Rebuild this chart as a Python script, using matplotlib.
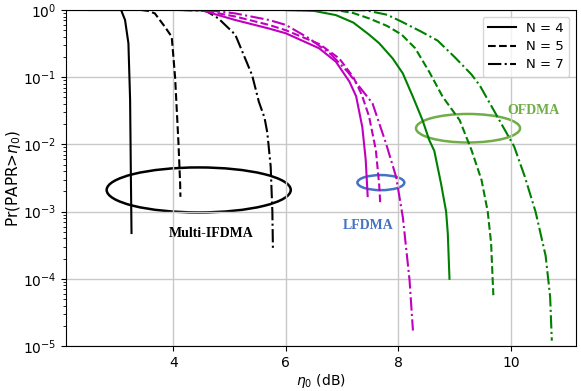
#!/usr/bin/env python3
# -*- coding: utf-8 -*-

import matplotlib
matplotlib.use('Agg')
import matplotlib.pyplot as plt
from matplotlib.patches import Ellipse

# Multi-IFDMA (black)
ifdma_n4_x = [2.5, 3.07, 3.14, 3.20, 3.23, 3.245, 3.255]
ifdma_n4_y = [1.0, 1.0, 0.71, 0.32, 0.046, 2.7e-3, 4.8e-4]
ifdma_n5_x = [3.43, 3.55, 3.67, 3.85, 3.97, 4.03, 4.09, 4.12, 4.125]
ifdma_n5_y = [1.0, 0.97, 0.89, 0.56, 0.40, 0.10, 0.0105, 2.6e-3, 1.66e-3]
ifdma_n7_x = [4.1, 4.57, 4.80, 5.10, 5.40, 5.52, 5.62, 5.67, 5.73, 5.76, 5.77]
ifdma_n7_y = [1.0, 0.98, 0.75, 0.43, 0.107, 0.043, 0.025, 0.015, 4.7e-3, 1.0e-3, 2.8e-4]

# LFDMA (magenta)
lfdma_n4_x = [4.2, 4.5, 5.1, 5.7, 6.0, 6.59, 6.89, 7.13, 7.25, 7.36, 7.42, 7.455]
lfdma_n4_y = [1.0, 0.99, 0.71, 0.53, 0.45, 0.27, 0.17, 0.086, 0.052, 0.018, 5.9e-3, 1.7e-3]
lfdma_n5_x = [4.2, 4.5, 5.1, 5.7, 6.0, 6.6, 6.95, 7.2, 7.35, 7.48, 7.60, 7.66, 7.68]
lfdma_n5_y = [1.0, 0.995, 0.8, 0.6, 0.5, 0.31, 0.19, 0.10, 0.055, 0.026, 8.3e-3, 2.5e-3, 1.25e-3]
lfdma_n7_x = [4.2, 4.6, 5.1, 5.7, 6.0, 6.41, 6.8, 7.1, 7.35, 7.54, 7.78, 7.96, 8.08, 8.20, 8.26]
lfdma_n7_y = [1.0, 0.995, 0.89, 0.71, 0.6, 0.38, 0.22, 0.12, 0.065, 0.041, 0.0104, 3.3e-3, 8.3e-4, 9.5e-5, 1.7e-5]

# OFDMA (green)
ofdma_n4_x = [6.0, 6.5, 6.89, 7.2, 7.48, 7.66, 7.90, 8.08, 8.26, 8.43, 8.55, 8.64, 8.76, 8.85, 8.88, 8.91]
ofdma_n4_y = [1.0, 0.97, 0.84, 0.65, 0.43, 0.32, 0.19, 0.114, 0.051, 0.023, 0.0116, 8.0e-3, 2.6e-3, 1.0e-3, 4.7e-4, 1.0e-4]
ofdma_n5_x = [6.0, 6.89, 7.2, 7.48, 7.8, 8.06, 8.3, 8.55, 8.79, 9.09, 9.30, 9.48, 9.59, 9.65, 9.69]
ofdma_n5_y = [1.0, 1.0, 0.9, 0.75, 0.58, 0.43, 0.27, 0.12, 0.051, 0.023, 8.3e-3, 2.95e-3, 1.0e-3, 3.4e-4, 5.7e-5]
ofdma_n7_x = [6.0, 7.42, 7.8, 8.06, 8.4, 8.7, 9.0, 9.3, 9.45, 9.76, 10.06, 10.25, 10.44, 10.62, 10.70, 10.73]
ofdma_n7_y = [1.0, 0.99, 0.85, 0.67, 0.48, 0.35, 0.2, 0.11, 0.075, 0.026, 9.3e-3, 3.3e-3, 1.0e-3, 2.2e-4, 5.4e-5, 1.2e-5]

legend_labels = ['N = 4', 'N = 5', 'N = 7']

fig = plt.figure(figsize=(5.81, 3.91), dpi=100)
ax = fig.add_axes([0.1136, 0.1151, 0.8778, 0.8593])

for xs, ys, ls, lab in [(ifdma_n4_x, ifdma_n4_y, '-', legend_labels[0]),
                        (ifdma_n5_x, ifdma_n5_y, '--', legend_labels[1]),
                        (ifdma_n7_x, ifdma_n7_y, '-.', legend_labels[2])]:
    ax.plot(xs, ys, color='black', ls=ls, lw=1.5, label=lab)

for xs, ys, ls in [(lfdma_n4_x, lfdma_n4_y, '-'),
                   (lfdma_n5_x, lfdma_n5_y, '--'),
                   (lfdma_n7_x, lfdma_n7_y, '-.')]:
    ax.plot(xs, ys, color='m', ls=ls, lw=1.5)

for xs, ys, ls in [(ofdma_n4_x, ofdma_n4_y, '-'),
                   (ofdma_n5_x, ofdma_n5_y, '--'),
                   (ofdma_n7_x, ofdma_n7_y, '-.')]:
    ax.plot(xs, ys, color='g', ls=ls, lw=1.5)

ax.set_yscale('log')
ax.set_xlim(2.09, 11.16)
ax.set_ylim(1e-5, 1)
ax.set_xticks([4, 6, 8, 10])
ax.grid(True, which='major', color='#c8c8c8', lw=1.0)
ax.set_xlabel(r'$\eta_0$ (dB)', labelpad=2)
ax.set_ylabel(r'Pr(PAPR>$\eta_0$)', fontsize=11, labelpad=0)
ax.legend(loc='upper right', fontsize=9.5, labelspacing=0.4, handlelength=2.1)


def ring(xc, yc, w, h, color):
    # centre given in data coords, size in axes fraction
    disp = ax.transData.transform((xc, yc))
    cx, cy = ax.transAxes.inverted().transform(disp)
    ax.add_patch(Ellipse((cx, cy), w, h, transform=ax.transAxes,
                         fill=False, edgecolor=color, lw=1.8))


ring(4.45, 2.1e-3, 0.361, 0.134, 'black')
ring(7.69, 2.7e-3, 0.092, 0.045, '#4472C4')
ring(9.24, 0.0174, 0.204, 0.085, '#70AD47')

bold_serif = dict(family='Liberation Serif', fontweight='bold', fontsize=10,
                  ha='center', va='center')
ax.text(4.68, 10 ** -3.32, 'Multi-IFDMA', color='black', **bold_serif)
ax.text(7.46, 10 ** -3.2, 'LFDMA', color='#4472C4', **bold_serif)
ax.text(10.41, 10 ** -1.49, 'OFDMA', color='#70AD47', **bold_serif)

fig.savefig('out.png', dpi=100)
